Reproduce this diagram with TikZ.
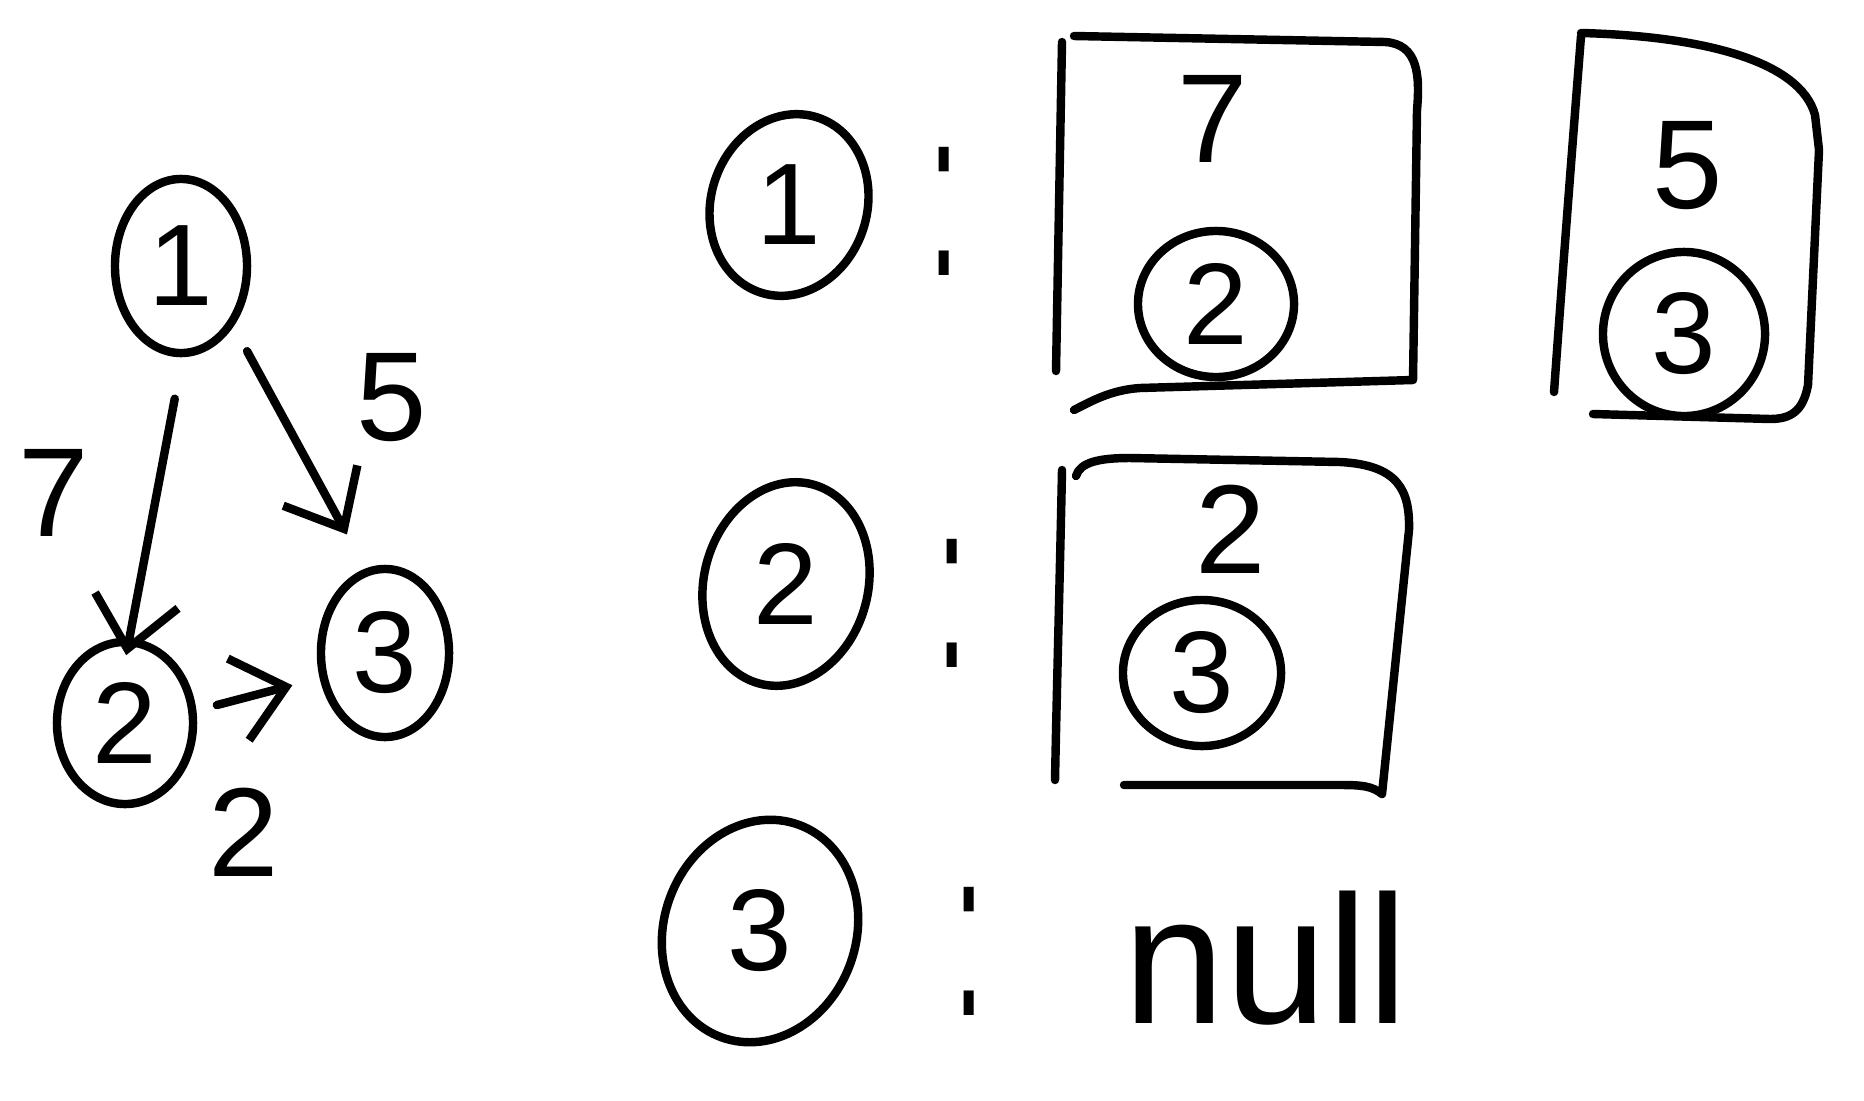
\documentclass[tikz,border=0pt]{standalone}
\usepackage{fontspec}
\setmainfont{Liberation Sans}
\usetikzlibrary{shapes.geometric,arrows.meta}
\begin{document}
\begin{tikzpicture}[x=0.01cm,y=-0.01cm, line width=2.4pt, line cap=round, line join=round,
  nd/.style={draw, ellipse, inner sep=0pt, font=\fontsize{33}{36}\selectfont},
  lbl/.style={inner sep=0pt, font=\fontsize{36}{40}\selectfont},
  colon/.style={inner sep=0pt, font=\fontsize{30}{34}\selectfont},
  arr/.style={-{Straight Barb[length=14pt,width=24pt,line width=2.4pt]}},
  boxline/.style={draw}]
\useasboundingbox (0,0) rectangle (1864,1100);
% graph
\node[nd, minimum width=1.32cm, minimum height=1.74cm] (g1) at (181,266) {1};
\node[nd, minimum width=1.36cm, minimum height=1.62cm] (g2) at (125,723) {2};
\node[nd, minimum width=1.28cm, minimum height=1.68cm] (g3) at (385,653) {3};
\draw[arr, shorten <=12pt, shorten >=-5pt] (g1.-89) -- (g2.87);
\draw[arr, shorten <=8pt, shorten >=11pt] (g1.-49) -- (g3.103);
\draw[arr, shorten <=6pt, shorten >=8pt] (g2.10) -- (g3.201);
\node[lbl] (w12) at (54,493) {7};
\node[lbl] (w13) at (392,398) {5};
\node[lbl] (w23) at (244,832) {2};
% adjacency list, vertex 1
\node[nd, minimum width=1.56cm, minimum height=1.84cm, rotate=-18] (r1) at (789,205) {\rotatebox{18}{1}};
\node[colon] (c1) at (944,211) {\scalebox{1}[2.3]{:}};
\draw[boxline] (1062,42) .. controls (1060,150) and (1058,260) .. (1056,371);
\draw[boxline] (1074,36) -- (1385,42) .. controls (1418,44) and (1420,75) .. (1417,110) -- (1413,380) -- (1140,388) .. controls (1110,390) and (1090,402) .. (1074,410);
\node[lbl] (e1w) at (1213,119) {7};
\node[nd, minimum width=1.56cm, minimum height=1.46cm] (e1v) at (1216,304) {2};
\draw[boxline] (1581,36) .. controls (1572,150) and (1562,280) .. (1554,392);
\draw[boxline] (1581,33) .. controls (1700,36) and (1800,60) .. (1815,115) -- (1819,150) -- (1808,385) .. controls (1803,412) and (1790,419) .. (1770,419) -- (1593,414);
\node[lbl] (e2w) at (1688,166) {5};
\node[nd, minimum width=1.62cm, minimum height=1.64cm] (e2v) at (1684,334) {3};
% vertex 2
\node[nd, minimum width=1.64cm, minimum height=2.06cm, rotate=-15] (r2) at (786,584) {\rotatebox{15}{2}};
\node[colon] (c2) at (952,603) {\scalebox{1}[2.3]{:}};
\draw[boxline] (1062,470) .. controls (1060,570) and (1057,680) .. (1055,780);
\draw[boxline] (1076,476) .. controls (1080,462) and (1100,458) .. (1130,458) -- (1340,462) .. controls (1398,465) and (1410,490) .. (1409,530) -- (1382,794) .. controls (1372,786) and (1362,785) .. (1340,785) -- (1124,785);
\node[lbl] (e3w) at (1231,529) {2};
\node[nd, minimum width=1.58cm, minimum height=1.46cm] (e3v) at (1202,673) {3};
% vertex 3
\node[nd, minimum width=1.92cm, minimum height=2.26cm, rotate=-20] (r3) at (760,931) {\rotatebox{20}{3}};
\node[colon] (c3) at (969,951) {\scalebox{1}[2.3]{:}};
\node[inner sep=0pt, font=\fontsize{52}{56}\selectfont] (nl) at (1266,958) {null};
\end{tikzpicture}
\end{document}
